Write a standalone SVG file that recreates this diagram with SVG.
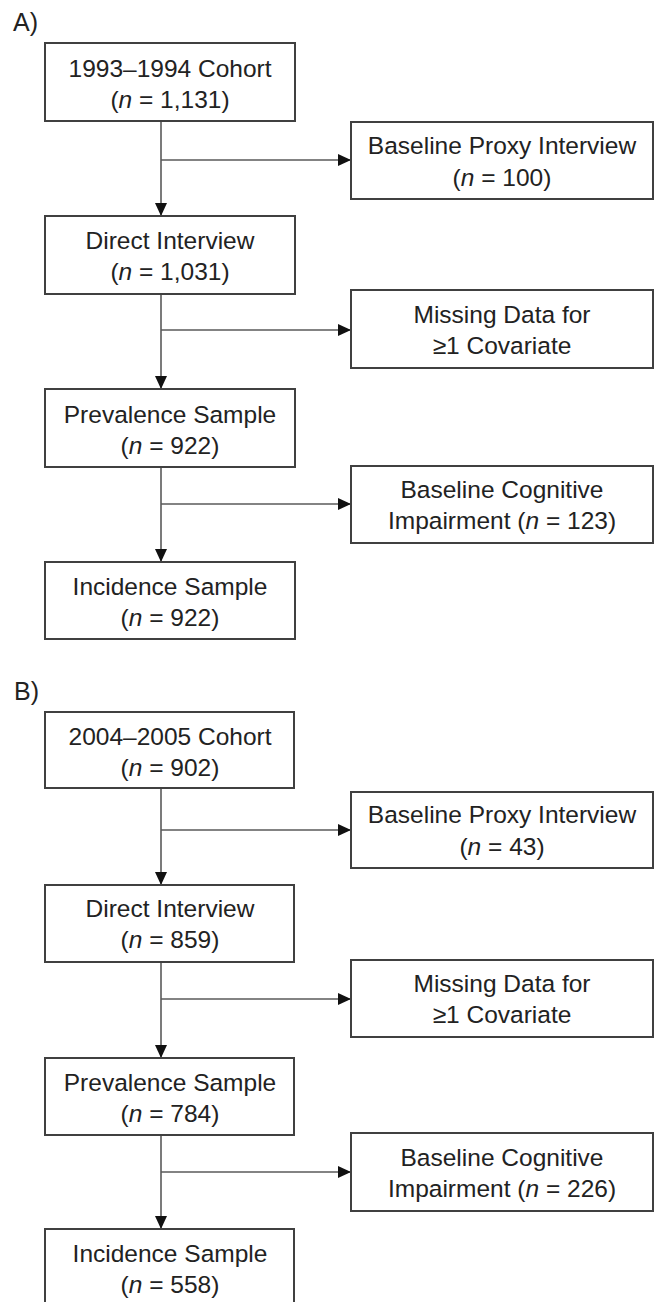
<svg xmlns="http://www.w3.org/2000/svg" width="654" height="1302" viewBox="0 0 654 1302">
<style>
.box{fill:#fff;stroke:#404040;stroke-width:2}
.t{font-family:"Liberation Sans",Arial,sans-serif;font-size:24.5px;fill:#222;text-anchor:middle}
.lbl{font-family:"Liberation Sans",Arial,sans-serif;font-size:25px;fill:#222}
.c{fill:none;stroke:#5a5a5a;stroke-width:1.6}
.i{font-style:italic}
</style>
<defs>
<marker id="ah" markerUnits="userSpaceOnUse" markerWidth="13" markerHeight="12" refX="13" refY="6" orient="auto">
<path d="M0,0 L13,6 L0,12 Z" fill="#111"/>
</marker>
</defs>
<rect width="654" height="1302" fill="#fff"/>
<text class="lbl" x="13" y="31">A)</text>
<text class="lbl" x="14" y="700">B)</text>
<g id="connectors">
<path class="c" d="M161,121 V216" marker-end="url(#ah)"/>
<path class="c" d="M161,160 H351" marker-end="url(#ah)"/>
<path class="c" d="M161,294 V389" marker-end="url(#ah)"/>
<path class="c" d="M161,330 H351" marker-end="url(#ah)"/>
<path class="c" d="M161,467 V562" marker-end="url(#ah)"/>
<path class="c" d="M161,504 H351" marker-end="url(#ah)"/>
<path class="c" d="M161,788 V885" marker-end="url(#ah)"/>
<path class="c" d="M161,830 H351" marker-end="url(#ah)"/>
<path class="c" d="M161,962 V1058" marker-end="url(#ah)"/>
<path class="c" d="M161,999 H351" marker-end="url(#ah)"/>
<path class="c" d="M161,1135 V1229" marker-end="url(#ah)"/>
<path class="c" d="M161,1172 H351" marker-end="url(#ah)"/>
</g>
<g id="a1"><rect class="box" x="45" y="43" width="250" height="78"/><text class="t" x="170" y="77">1993–1994 Cohort</text><text class="t" x="170" y="108">(<tspan class="i">n</tspan> = 1,131)</text></g>
<g id="a_proxy"><rect class="box" x="351" y="122" width="302" height="77"/><text class="t" x="502" y="154">Baseline Proxy Interview</text><text class="t" x="502" y="186">(<tspan class="i">n</tspan> = 100)</text></g>
<g id="a2"><rect class="box" x="45" y="216" width="250" height="78"/><text class="t" x="170" y="249">Direct Interview</text><text class="t" x="170" y="280">(<tspan class="i">n</tspan> = 1,031)</text></g>
<g id="a_missing"><rect class="box" x="351" y="290" width="302" height="78"/><text class="t" x="502" y="323">Missing Data for</text><text class="t" x="502" y="354">≥1 Covariate</text></g>
<g id="a3"><rect class="box" x="45" y="389" width="250" height="78"/><text class="t" x="170" y="423">Prevalence Sample</text><text class="t" x="170" y="454">(<tspan class="i">n</tspan> = 922)</text></g>
<g id="a_cog"><rect class="box" x="351" y="466" width="302" height="77"/><text class="t" x="502" y="498">Baseline Cognitive</text><text class="t" x="502" y="529">Impairment (<tspan class="i">n</tspan> = 123)</text></g>
<g id="a4"><rect class="box" x="45" y="562" width="250" height="77"/><text class="t" x="170" y="595">Incidence Sample</text><text class="t" x="170" y="626">(<tspan class="i">n</tspan> = 922)</text></g>
<g id="b1"><rect class="box" x="45" y="712" width="249" height="76"/><text class="t" x="170" y="745">2004–2005 Cohort</text><text class="t" x="170" y="776">(<tspan class="i">n</tspan> = 902)</text></g>
<g id="b_proxy"><rect class="box" x="351" y="792" width="302" height="76"/><text class="t" x="502" y="823">Baseline Proxy Interview</text><text class="t" x="502" y="855">(<tspan class="i">n</tspan> = 43)</text></g>
<g id="b2"><rect class="box" x="45" y="885" width="249" height="77"/><text class="t" x="170" y="917">Direct Interview</text><text class="t" x="170" y="948">(<tspan class="i">n</tspan> = 859)</text></g>
<g id="b_missing"><rect class="box" x="351" y="960" width="302" height="77"/><text class="t" x="502" y="992">Missing Data for</text><text class="t" x="502" y="1023">≥1 Covariate</text></g>
<g id="b3"><rect class="box" x="45" y="1058" width="249" height="77"/><text class="t" x="170" y="1091">Prevalence Sample</text><text class="t" x="170" y="1122">(<tspan class="i">n</tspan> = 784)</text></g>
<g id="b_cog"><rect class="box" x="351" y="1133" width="302" height="78"/><text class="t" x="502" y="1166">Baseline Cognitive</text><text class="t" x="502" y="1197">Impairment (<tspan class="i">n</tspan> = 226)</text></g>
<g id="b4"><rect class="box" x="45" y="1229" width="249" height="90"/><text class="t" x="170" y="1262">Incidence Sample</text><text class="t" x="170" y="1293">(<tspan class="i">n</tspan> = 558)</text></g>
</svg>
